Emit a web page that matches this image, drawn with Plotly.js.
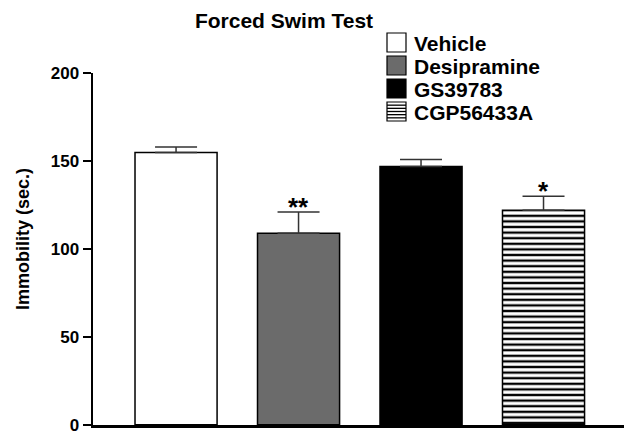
<!DOCTYPE html>
<html>
<head>
<meta charset="utf-8">
<script src="https://cdn.plot.ly/plotly-3.0.1.min.js"></script>
<style>
  html, body { margin: 0; padding: 0; background: #fff; }
  #chart { width: 624px; height: 435px; }
</style>
</head>
<body>
<div id="chart"></div>
<script>
// Forced swim test: immobility time per treatment group (mean + SEM)
const groups = ['Vehicle', 'Desipramine', 'GS39783', 'CGP56433A'];
const immobility = [155, 109, 147, 122];
const sem = [3, 12, 4, 8];
const significance = ['', '**', '', '*'];
const yTicks = [0, 50, 100, 150, 200];

// Visual style of each group (fill colour and hatch)
const fills = ['#ffffff', '#6b6b6b', '#000000', '#ffffff'];
const hatches = ['', '', '', '-'];

const FONT = '"Liberation Sans", Arial, Helvetica, sans-serif';

const W = 624, H = 435;
const M = { l: 93, r: 0, t: 73, b: 10 };
const plotW = W - M.l - M.r, plotH = H - M.t - M.b;
// pixel -> paper coordinate helpers for the hand-drawn legend and labels
const px = x => (x - M.l) / plotW;
const py = y => (H - M.b - y) / plotH;

// One bar trace per group so each can carry its own fill / hatch
const traces = groups.map((g, i) => {
  const marker = {
    color: fills[i],
    line: { color: '#000', width: 1.5 }
  };
  if (hatches[i]) {
    marker.pattern = { shape: hatches[i], fgcolor: '#000', bgcolor: '#fff', size: 5.6, solidity: 0.42, fillmode: 'replace' };
  }
  return {
    type: 'bar',
    name: g,
    x: [i],
    y: [immobility[i]],
    width: 0.67,
    marker: marker,
    error_y: {
      type: 'data', symmetric: false,
      array: [sem[i]], arrayminus: [0],
      color: '#333', thickness: 1.5, width: 21
    },
    showlegend: false
  };
});

// Significance stars above the error bars
const annotations = groups.map((g, i) => ({
  x: i, y: immobility[i] + sem[i],
  xref: 'x', yref: 'y',
  text: significance[i],
  showarrow: false,
  yanchor: 'middle', yshift: 5,
  font: { family: FONT, size: 26, color: '#000', weight: 'bold' }
})).filter(a => a.text);

// Y axis title
annotations.push({
  xref: 'paper', yref: 'paper',
  x: px(23), y: py(239),
  xanchor: 'center', yanchor: 'middle',
  textangle: -90,
  text: 'Immobility (sec.)', showarrow: false,
  font: { family: FONT, size: 18, color: '#000', weight: 'bold' }
});

// Legend: swatches and labels
const shapes = [];
const boxL = 387, boxR = 406, boxS = 19, rowTop = 33, rowStep = 23;
groups.forEach((g, i) => {
  const top = rowTop + i * rowStep;
  shapes.push({
    type: 'rect', xref: 'paper', yref: 'paper',
    x0: px(boxL), x1: px(boxR), y0: py(top + boxS), y1: py(top),
    fillcolor: fills[i], line: { color: '#000', width: 1.2 }
  });
  if (hatches[i] === '-') {
    for (let k = 1; k <= 5; k++) {
      const yy = top + k * boxS / 6;
      shapes.push({
        type: 'line', xref: 'paper', yref: 'paper',
        x0: px(boxL), x1: px(boxR), y0: py(yy), y1: py(yy),
        line: { color: '#000', width: 1.3 }
      });
    }
  }
  annotations.push({
    xref: 'paper', yref: 'paper',
    x: px(412), y: py(top + boxS / 2 + 1),
    xanchor: 'left', yanchor: 'middle',
    text: g, showarrow: false,
    font: { family: FONT, size: 21, color: '#000', weight: 'bold' }
  });
});

const layout = {
  width: W, height: H,
  margin: M,
  paper_bgcolor: '#fff', plot_bgcolor: '#fff',
  barmode: 'overlay',
  title: {
    text: 'Forced Swim Test',
    xref: 'paper', x: px(284), xanchor: 'center',
    yref: 'container', y: 1 - 21 / H, yanchor: 'middle',
    font: { family: FONT, size: 21, color: '#000', weight: 'bold' }
  },
  xaxis: {
    range: [-0.678, 3.657],
    showticklabels: false, ticks: '',
    showline: true, linecolor: '#000', linewidth: 2.5,
    showgrid: false, zeroline: false, fixedrange: true
  },
  yaxis: {
    range: [-0.2, 200.2],
    tickmode: 'array',
    tickvals: yTicks,
    ticktext: yTicks.map(String),
    ticklabeloverflow: 'allow',
    ticks: 'outside', ticklen: 8, tickwidth: 2, tickcolor: '#000',
    tickfont: { family: FONT, size: 17, color: '#000', weight: 'bold' },
    showline: true, linecolor: '#000', linewidth: 2.5,
    showgrid: false, zeroline: false, fixedrange: true
  },
  shapes: shapes,
  annotations: annotations
};

Plotly.newPlot('chart', traces, layout, { displayModeBar: false, staticPlot: true });
</script>
</body>
</html>
